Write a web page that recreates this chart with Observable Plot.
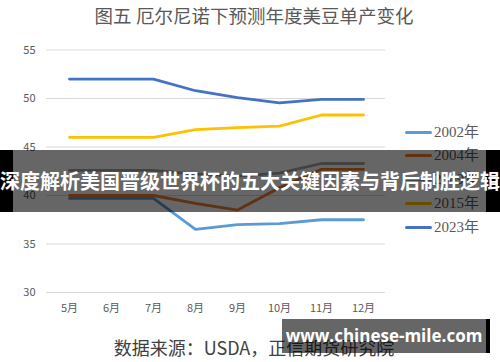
<!DOCTYPE html>
<html><head><meta charset="utf-8">
<script src="https://cdn.jsdelivr.net/npm/d3@7"></script>
<script src="https://cdn.jsdelivr.net/npm/@observablehq/plot@0.6"></script>
<style>
html,body{margin:0;padding:0;background:#fff;}
#wrap{position:relative;width:500px;height:362px;overflow:hidden;font-family:"Noto Sans CJK SC","Noto Sans",sans-serif;}
#wrap svg{position:absolute;left:0;top:0;}
.title{position:absolute;left:0;width:508px;top:4px;text-align:center;font-family:"Liberation Serif","Noto Sans CJK SC",serif;font-size:18.5px;color:#595959;line-height:26px;white-space:nowrap;}
.caption{position:absolute;left:0;width:508px;top:334px;text-align:center;font-family:"Noto Sans CJK SC",sans-serif;font-size:18px;color:#404040;line-height:26px;white-space:nowrap;}
.leg{position:absolute;left:405px;height:20px;width:95px;}
.leg .sw{position:absolute;left:0;top:9px;width:27px;height:3px;border-radius:1.5px;}
.leg .tx{position:absolute;left:29px;top:0;line-height:20px;font-family:"Liberation Serif","Noto Sans CJK SC",serif;font-size:15px;color:#595959;white-space:nowrap;}
.banner{position:absolute;left:0;top:150px;width:500px;height:62px;box-sizing:border-box;background:rgba(0,0,0,0.6);border-left:13px solid #000;border-right:14px solid #000;}
.banner .bt{position:absolute;left:-33px;width:540px;top:0;height:62px;line-height:62px;text-align:center;color:#fff;font-weight:700;font-size:20px;white-space:nowrap;font-family:"Noto Sans CJK SC",sans-serif;}
.wm{position:absolute;left:282px;top:319px;width:208px;height:34px;box-sizing:border-box;background:rgba(0,0,0,0.6);border-right:4px solid #000;color:#fff;font-weight:700;font-size:17px;line-height:34px;text-align:center;font-family:"Open Sans","Noto Sans",sans-serif;white-space:nowrap;}
</style></head><body><div id="wrap"></div>
<script>
const months = ["5月","6月","7月","8月","9月","10月","11月","12月"];
const seriesNames = ["2002年","2004年","2009年","2015年","2023年"];
const seriesColors = ["#5B9BD5","#ED7D31","#A5A5A5","#FFC000","#4472C4"];
const y2002 = [39.7,39.7,39.7,36.5,37.0,37.1,37.5,37.5];
const y2004 = [40.0,40.0,40.0,39.2,38.5,40.8,42.7,42.7];
const y2009 = [42.6,42.6,42.6,42.2,42.0,42.3,43.3,43.3];
const y2015 = [46.0,46.0,46.0,46.8,47.0,47.15,48.3,48.3];
const y2023 = [52.0,52.0,52.0,50.8,50.1,49.55,49.9,49.9];
const yTicks = [30,35,40,45,50,55];
const titleText = "图五  厄尔尼诺下预测年度美豆单产变化";
const captionText = "数据来源：USDA，正信期货研究院";
const bannerText = "深度解析美国晋级世界杯的五大关键因素与背后制胜逻辑";
const watermarkText = "www.chinese-mile.com";

const seriesValues = [y2002,y2004,y2009,y2015,y2023];
const rows = [];
seriesValues.forEach((vals,i)=>vals.forEach((v,j)=>rows.push({series:seriesNames[i],month:months[j],value:v})));

const chart = Plot.plot({
  width:500, height:362,
  marginTop:49.5, marginBottom:70, marginLeft:46, marginRight:115,
  x:{type:"point", domain:months, padding:0.5, label:null, tickSize:0, tickPadding:12},
  y:{domain:[30,55], ticks:yTicks, label:null, tickSize:0, tickPadding:11},
  color:{domain:seriesNames, range:seriesColors},
  style:{fontSize:"11px", color:"#595959", background:"transparent", fontFamily:"'Noto Sans CJK SC','Noto Sans',sans-serif"},
  marks:[
    Plot.ruleY(yTicks,{stroke:"#d9d9d9",strokeWidth:1}),
    Plot.line(rows,{x:"month",y:"value",z:"series",stroke:"series",strokeWidth:2.8})
  ]
});

const wrap = document.getElementById("wrap");
wrap.appendChild(chart);

const t = document.createElement("div"); t.className="title"; t.textContent=titleText; wrap.appendChild(t);
const c = document.createElement("div"); c.className="caption"; c.textContent=captionText; wrap.appendChild(c);

const legTops = [121.5,145.4,169.3,193.2,217.1];
seriesNames.forEach((n,i)=>{
  const d=document.createElement("div"); d.className="leg"; d.style.top=legTops[i]+"px";
  const s=document.createElement("div"); s.className="sw"; s.style.background=seriesColors[i]; d.appendChild(s);
  const x=document.createElement("div"); x.className="tx"; x.textContent=n; d.appendChild(x);
  wrap.appendChild(d);
});

const b=document.createElement("div"); b.className="banner";
const bt=document.createElement("div"); bt.className="bt"; bt.textContent=bannerText; b.appendChild(bt);
wrap.appendChild(b);

const w=document.createElement("div"); w.className="wm"; w.textContent=watermarkText; wrap.appendChild(w);
</script></body></html>
